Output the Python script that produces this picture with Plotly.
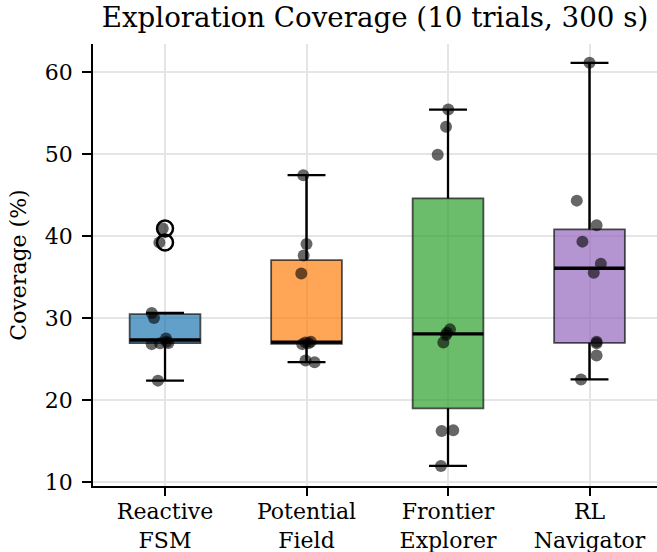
import numpy as np
import plotly.graph_objects as go

# ---- data ----
categories = ["Reactive<br>FSM", "Potential<br>Field", "Frontier<br>Explorer", "RL<br>Navigator"]
reactive_fsm = [22.35, 26.8, 26.9, 26.95, 27.1, 27.5, 30.0, 30.6, 39.2, 40.9]
potential_field = [24.6, 24.8, 26.8, 26.9, 27.0, 27.1, 35.4, 37.6, 39.0, 47.4]
frontier_explorer = [11.95, 16.2, 16.3, 27.0, 27.9, 28.2, 28.6, 49.9, 53.3, 55.4]
rl_navigator = [22.5, 25.4, 26.9, 27.1, 35.5, 36.6, 39.3, 41.3, 44.3, 61.1]

# horizontal jitter of the trial dots (category units)
jitter_fsm = [-0.05, -0.094, -0.035, 0.024, 0.01, 0.007, -0.078, -0.094, -0.04, -0.016]
jitter_pf = [0.057, -0.007, -0.03, 0.014, -0.007, 0.03, -0.037, -0.02, 0.0, -0.023]
jitter_fe = [-0.05, -0.045, 0.037, -0.033, -0.014, -0.007, 0.014, -0.073, -0.014, 0.002]
jitter_rl = [-0.06, 0.05, 0.05, 0.05, 0.03, 0.08, -0.05, 0.05, -0.09, 0.0]

series = [reactive_fsm, potential_field, frontier_explorer, rl_navigator]
jitters = [jitter_fsm, jitter_pf, jitter_fe, jitter_rl]
fills = ["rgba(31,119,180,0.7)", "rgba(255,127,14,0.7)",
         "rgba(44,160,44,0.7)", "rgba(148,103,189,0.7)"]

FONT = "DejaVu Serif"
BOX_W = 0.5
CAP_HALF = 0.134

fig = go.Figure()

for i, (vals, jit, fill) in enumerate(zip(series, jitters, fills)):
    pos = i + 1
    v = np.array(vals)
    q1, med, q3 = np.percentile(v, [25, 50, 75])
    iqr = q3 - q1
    lo = v[v >= q1 - 1.5 * iqr].min()
    hi = v[v <= q3 + 1.5 * iqr].max()
    outl = v[(v < lo) | (v > hi)]

    fig.add_trace(go.Box(
        x=[pos], q1=[q1], median=[med], q3=[q3], lowerfence=[lo], upperfence=[hi],
        width=BOX_W, fillcolor=fill, whiskerwidth=0,
        line=dict(color="rgba(25,25,25,0.75)", width=1.8),
        boxpoints=False, hoverinfo="skip", showlegend=False,
    ))
    # whiskers
    fig.add_trace(go.Scatter(
        x=[pos, pos, None, pos, pos], y=[lo, q1, None, q3, hi],
        mode="lines", line=dict(color="black", width=2.3),
        hoverinfo="skip", showlegend=False,
    ))
    # caps
    fig.add_trace(go.Scatter(
        x=[pos - CAP_HALF, pos + CAP_HALF, None, pos - CAP_HALF, pos + CAP_HALF],
        y=[lo, lo, None, hi, hi],
        mode="lines", line=dict(color="black", width=2.3),
        hoverinfo="skip", showlegend=False,
    ))
    # median
    fig.add_trace(go.Scatter(
        x=[pos - BOX_W / 2, pos + BOX_W / 2], y=[med, med],
        mode="lines", line=dict(color="black", width=3.4),
        hoverinfo="skip", showlegend=False,
    ))
    # outliers
    if len(outl):
        fig.add_trace(go.Scatter(
            x=[pos] * len(outl), y=outl, mode="markers",
            marker=dict(symbol="circle-open", size=16, color="black", line=dict(width=2.5)),
            hoverinfo="skip", showlegend=False,
        ))
    # trial dots
    fig.add_trace(go.Scatter(
        x=[pos + j for j in jit], y=vals, mode="markers",
        marker=dict(size=12, color="rgba(0,0,0,0.6)"),
        showlegend=False,
    ))

fig.update_layout(
    width=657, height=552,
    margin=dict(l=93, r=0, t=44, b=66),
    paper_bgcolor="white", plot_bgcolor="white",
    font=dict(family=FONT, size=22, color="black"),
    title=dict(text="Exploration Coverage (10 trials, 300 s)", x=0.5, xanchor="center",
               xref="paper", y=0.969, yref="container", yanchor="middle",
               font=dict(family=FONT, size=27.7, color="black")),
)
fig.update_xaxes(
    range=[0.491, 4.477], tickmode="array", tickvals=[1, 2, 3, 4], ticktext=categories,
    showgrid=True, gridcolor="#e5e5e5", gridwidth=1.5,
    showline=True, linecolor="black", linewidth=1.8,
    ticks="outside", ticklen=8, tickwidth=1.6, tickcolor="black",
    zeroline=False, tickfont=dict(family=FONT, size=22), automargin=False,
    ticklabelstandoff=-3,
)
fig.update_yaxes(
    range=[9.5, 63.4], tickmode="array", tickvals=[10, 20, 30, 40, 50, 60],
    showgrid=True, gridcolor="#e5e5e5", gridwidth=1.5,
    showline=True, linecolor="black", linewidth=1.8,
    ticks="outside", ticklen=9, tickwidth=1.6, tickcolor="black",
    zeroline=False, tickfont=dict(family=FONT, size=22), automargin=False,
    ticklabelstandoff=5,
    title=dict(text="Coverage (%)", font=dict(family=FONT, size=22), standoff=12),
)

fig.write_html("out.html")
